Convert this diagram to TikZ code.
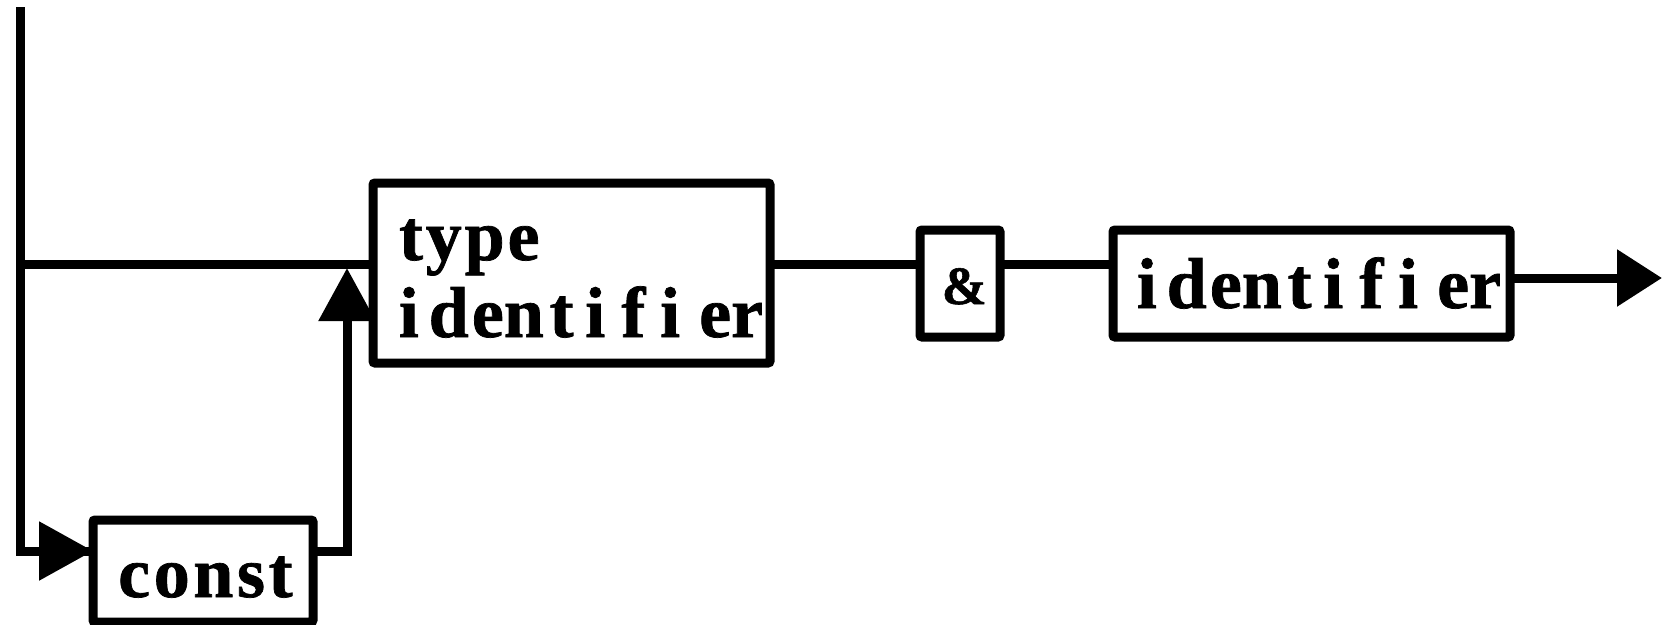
\documentclass[tikz,border=0pt]{standalone}
\usepackage{fontspec}
\setmainfont[BoldFeatures={FakeBold=1}]{Liberation Serif}
\usetikzlibrary{arrows.meta}
\newcommand{\idword}{i\kern.137em d\kern.044em en\kern.078em t\kern.163em i\kern.224em f\kern.206em i\kern.264em er}
\newcommand{\typeword}{t\kern.04em y\kern.04em p\kern.04em e}
\newcommand{\constword}{c\kern.05em o\kern.05em n\kern.05em s\kern.05em t}
\tikzset{
  box/.style={draw, line width=9pt, rounded corners=2pt, inner sep=0pt, outer sep=0pt},
  txt/.style={inner sep=0pt, outer sep=0pt, anchor=base west, font=\fontsize{72pt}{80pt}\selectfont\bfseries},
  conn/.style={line width=9pt, line join=miter},
}
\begin{document}
\begin{tikzpicture}[x=1pt,y=-1pt]
\useasboundingbox (0,0) rectangle (1662,624);
% boxes
\node[box, minimum width=397pt, minimum height=180pt] (typebox) at (571.5,273) {};
\node[box, minimum width=220pt, minimum height=102pt] (constbox) at (203,571) {};
\node[box, minimum width=80pt, minimum height=107pt] (ampbox) at (960,283.5) {};
\node[box, minimum width=397pt, minimum height=107pt] (idbox) at (1311.5,283.5) {};
% texts
\node[txt] (typetxt) at (399,260) {\typeword};
\node[txt] (typeid) at (398.85,337) {\idword};
\node[txt] (idtxt) at (1136.85,308) {\idword};
\node[txt] (consttxt) at (118.2,597) {\constword};
\node[txt, font=\fontsize{54pt}{60pt}\selectfont\bfseries] (amptxt) at (941.7,304) {\&};
% coordinates
\coordinate (top) at (20,7);
\coordinate (j1) at (20,264);
\coordinate (j2) at (20,551);
\coordinate (r1) at (347,551);
\coordinate (r2) at (347,268);
\coordinate (outend) at (1662,278);
% connectors
\draw[conn] (top) -- (j2) -- (constbox.west |- j2) ;
\draw[conn, -{Triangle[length=54pt,width=57pt]}] (j2) -- (constbox.west |- j2);
\draw[conn] (j1) -- (typebox.west |- j1);
\draw[conn, -{Triangle[length=53pt,width=55pt]}] (constbox.east |- r1) -- (r1) -- (r2);
\draw[conn] (typebox.east |- j1) -- (ampbox.west |- j1);
\draw[conn] (ampbox.east |- j1) -- (idbox.west |- j1);
\draw[conn, -{Triangle[length=45pt,width=55pt]}] (idbox.east |- outend) -- (outend);
\end{tikzpicture}
\end{document}
